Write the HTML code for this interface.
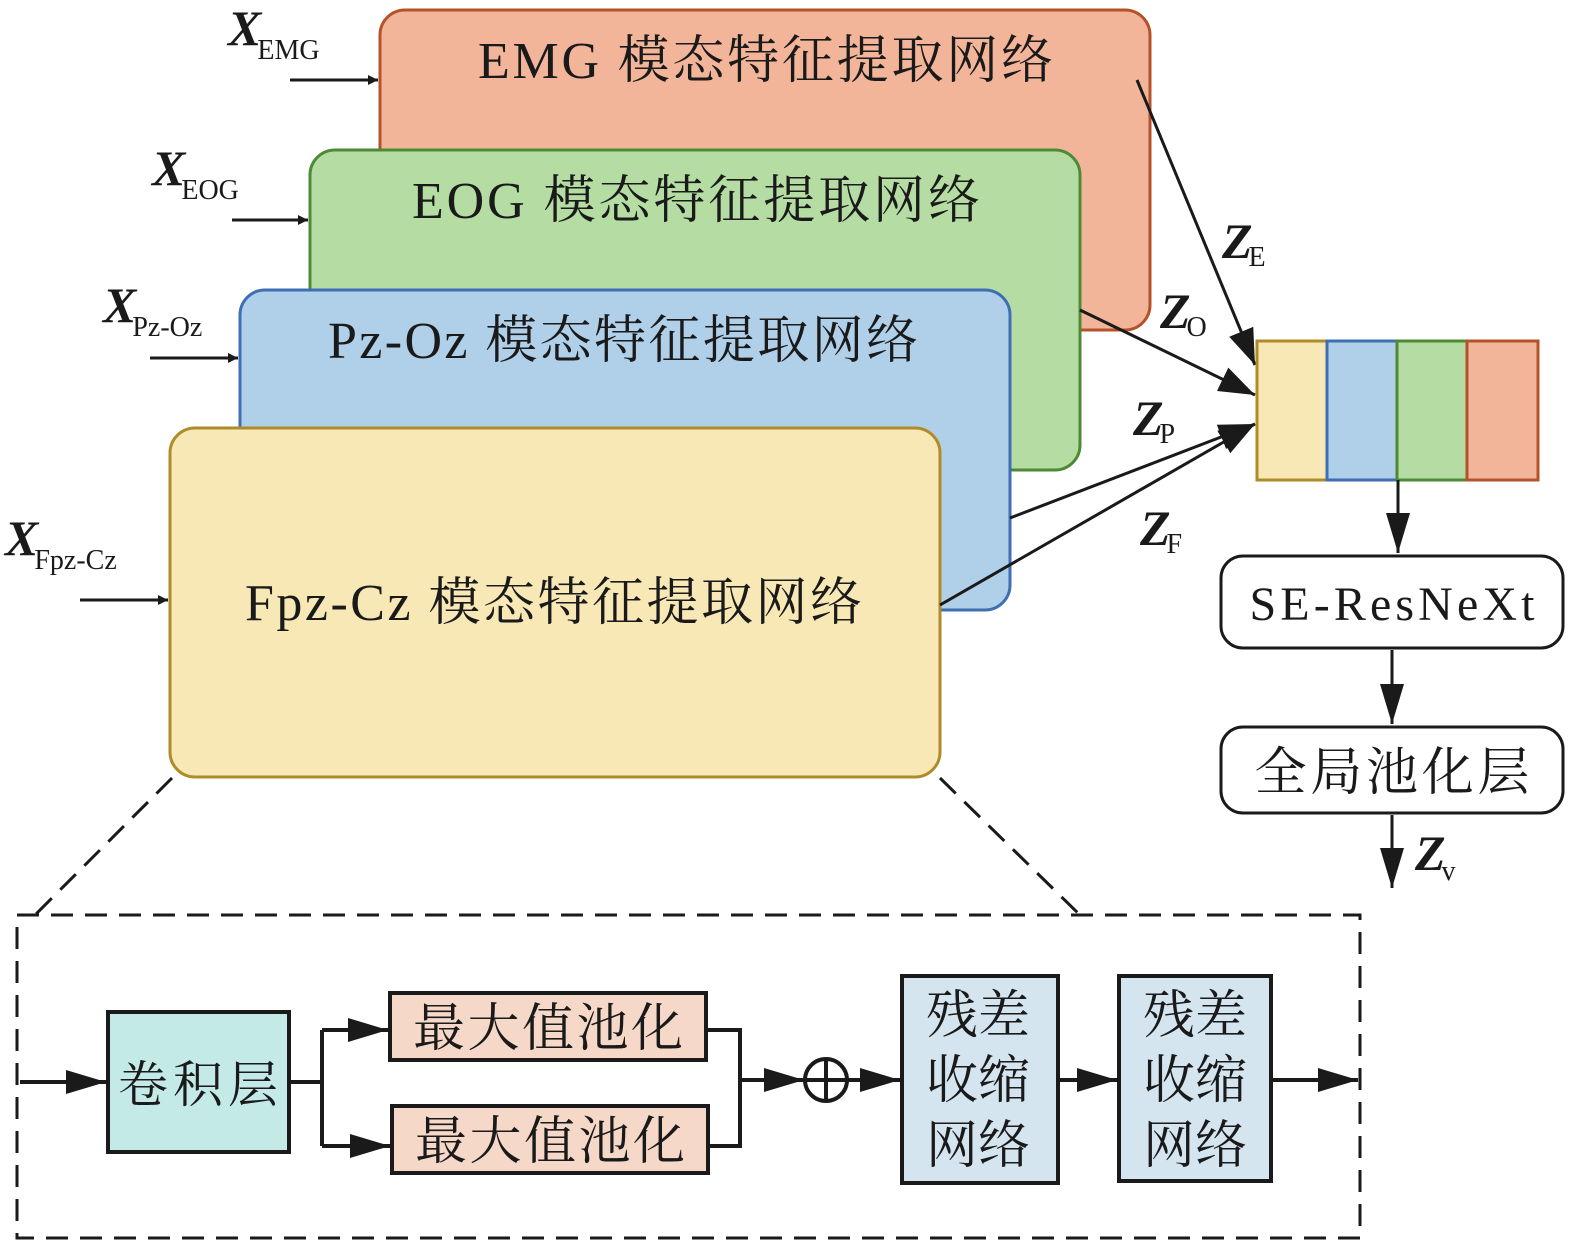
<!DOCTYPE html>
<html><head><meta charset="utf-8"><style>
html,body{margin:0;padding:0;background:#fff;}
svg{display:block;}
text{font-family:"Liberation Serif","Noto Serif CJK SC",serif;fill:#1a1a1a;}
.t{font-size:52px;}
.xb{font-weight:bold;font-style:italic;font-size:50px;}
.sub{font-size:28px;}
</style></head><body>
<svg width="1575" height="1250" viewBox="0 0 1575 1250" xmlns="http://www.w3.org/2000/svg">
<defs>
<marker id="a" viewBox="0 0 10 10" refX="10" refY="5" markerWidth="10" markerHeight="10" markerUnits="userSpaceOnUse" orient="auto"><path d="M0,0 L10,5 L0,10 z" fill="#1a1a1a"/></marker>
</defs>
<g stroke="#1a1a1a" stroke-width="3" fill="none">
</g>
<!-- modality boxes -->
<rect x="380" y="10" width="770" height="320" rx="25" fill="#F2B59A" stroke="#B5522A" stroke-width="3"/>
<rect x="310" y="150" width="770" height="320" rx="25" fill="#B5DDA3" stroke="#4E8A35" stroke-width="3"/>
<rect x="240" y="290" width="770" height="320" rx="25" fill="#B0CFE8" stroke="#3E6FB5" stroke-width="3"/>
<rect x="170" y="428" width="770" height="349" rx="25" fill="#F8E8B6" stroke="#B08B2A" stroke-width="3"/>
<text class="t" x="478" y="78" textLength="575">EMG 模态特征提取网络</text>
<text class="t" x="412" y="218" textLength="568">EOG 模态特征提取网络</text>
<text class="t" x="328" y="358" textLength="590">Pz-Oz 模态特征提取网络</text>
<text class="t" x="245" y="620" textLength="617">Fpz-Cz 模态特征提取网络</text>

<!-- inputs -->
<text x="228" y="45"><tspan class="xb">X</tspan><tspan class="sub" dx="-4" dy="14">EMG</tspan></text>
<text x="152" y="185"><tspan class="xb">X</tspan><tspan class="sub" dx="-4" dy="14">EOG</tspan></text>
<text x="103" y="322"><tspan class="xb">X</tspan><tspan class="sub" dx="-4" dy="14">Pz-Oz</tspan></text>
<text x="5" y="555"><tspan class="xb">X</tspan><tspan class="sub" dx="-4" dy="14">Fpz-Cz</tspan></text>
<g stroke="#1a1a1a" stroke-width="3" fill="none">
<line x1="290" y1="80" x2="378" y2="80" marker-end="url(#a)"/>
<line x1="232" y1="220" x2="308" y2="220" marker-end="url(#a)"/>
<line x1="150" y1="358" x2="238" y2="358" marker-end="url(#a)"/>
<line x1="80" y1="600" x2="168" y2="600" marker-end="url(#a)"/>
</g>
<defs>
<marker id="b" viewBox="0 0 10 10" refX="10" refY="5" markerWidth="14" markerHeight="14" markerUnits="userSpaceOnUse" orient="auto"><path d="M0,0 L10,5 L0,10 z" fill="#1a1a1a"/></marker>
</defs>
<style>#x{}</style>
<!-- convergent arrows -->
<g stroke="#1a1a1a" stroke-width="3" fill="none">
<line x1="1137" y1="80" x2="1255" y2="365" marker-end="url(#c)"/>
<line x1="1080" y1="310" x2="1255" y2="395" marker-end="url(#c)"/>
<line x1="1010" y1="518" x2="1255" y2="424" marker-end="url(#c)"/>
<line x1="940" y1="605" x2="1255" y2="424" marker-end="url(#c)"/>
</g>
<defs>
<marker id="c" viewBox="0 0 10 10" refX="10" refY="5" markerWidth="36" markerHeight="26" markerUnits="userSpaceOnUse" orient="auto" preserveAspectRatio="none"><path d="M0,0 L10,5 L0,10 z" fill="#1a1a1a"/></marker>
<marker id="d" viewBox="0 0 10 10" refX="10" refY="5" markerWidth="40" markerHeight="24" markerUnits="userSpaceOnUse" orient="auto" preserveAspectRatio="none"><path d="M0,0 L10,5 L0,10 z" fill="#1a1a1a"/></marker>
</defs>
<text x="1222" y="258"><tspan class="xb">Z</tspan><tspan class="sub" dx="-4" dy="8">E</tspan></text>
<text x="1160" y="328"><tspan class="xb">Z</tspan><tspan class="sub" dx="-4" dy="8">O</tspan></text>
<text x="1133" y="435"><tspan class="xb">Z</tspan><tspan class="sub" dx="-4" dy="8">P</tspan></text>
<text x="1140" y="545"><tspan class="xb">Z</tspan><tspan class="sub" dx="-4" dy="8">F</tspan></text>

<!-- concat -->
<rect x="1257" y="341" width="70" height="139" fill="#F8E8B6" stroke="#B08B2A" stroke-width="3"/>
<rect x="1327" y="341" width="70" height="139" fill="#B0CFE8" stroke="#3E6FB5" stroke-width="3"/>
<rect x="1397" y="341" width="70" height="139" fill="#B5DDA3" stroke="#4E8A35" stroke-width="3"/>
<rect x="1467" y="341" width="71" height="139" fill="#F2B59A" stroke="#B5522A" stroke-width="3"/>
<g stroke="#1a1a1a" stroke-width="3" fill="none">
<line x1="1398" y1="480" x2="1398" y2="553" marker-end="url(#d)"/>
<line x1="1392" y1="650" x2="1392" y2="724" marker-end="url(#d)"/>
<line x1="1392" y1="815" x2="1392" y2="888" marker-end="url(#d)"/>
</g>
<rect x="1221" y="556" width="342" height="92" rx="22" fill="#fff" stroke="#1a1a1a" stroke-width="3"/>
<text x="1392" y="620" text-anchor="middle" style="font-size:48px" textLength="285">SE-ResNeXt</text>
<rect x="1221" y="727" width="342" height="86" rx="22" fill="#fff" stroke="#1a1a1a" stroke-width="3"/>
<text x="1392" y="790" text-anchor="middle" style="font-size:52px" textLength="275">全局池化层</text>
<text x="1415" y="870"><tspan class="xb">Z</tspan><tspan class="sub" dx="-4" dy="10">v</tspan></text>

<!-- dashed -->
<g stroke="#1a1a1a" stroke-width="3" fill="none" stroke-dasharray="22,12">
<line x1="172" y1="778" x2="35" y2="915"/>
<line x1="940" y1="778" x2="1080" y2="915"/>
<rect x="17" y="915" width="1343" height="323"/>
</g>

<!-- bottom flow -->
<rect x="108" y="1012" width="181" height="140" fill="#C4EAE8" stroke="#1a1a1a" stroke-width="4"/>
<text x="198" y="1102" text-anchor="middle" style="font-size:50px" textLength="160">卷积层</text>
<rect x="390" y="993" width="316" height="67" fill="#F6D8C8" stroke="#1a1a1a" stroke-width="4"/>
<text x="548" y="1046" text-anchor="middle" style="font-size:52px" textLength="270">最大值池化</text>
<rect x="392" y="1106" width="316" height="67" fill="#F6D8C8" stroke="#1a1a1a" stroke-width="4"/>
<text x="550" y="1159" text-anchor="middle" style="font-size:52px" textLength="270">最大值池化</text>
<rect x="902" y="976" width="156" height="207" fill="#D5E5F0" stroke="#1a1a1a" stroke-width="4"/>
<rect x="1119" y="976" width="152" height="205" fill="#D5E5F0" stroke="#1a1a1a" stroke-width="4"/>
<g style="font-size:52px" text-anchor="middle">
<text x="978" y="1033">残差</text><text x="978" y="1098">收缩</text><text x="978" y="1163">网络</text>
<text x="1195" y="1033">残差</text><text x="1195" y="1098">收缩</text><text x="1195" y="1163">网络</text>
</g>
<g stroke="#1a1a1a" stroke-width="4" fill="none">
<line x1="20" y1="1082" x2="106" y2="1082" marker-end="url(#e)"/>
<polyline points="289,1082 322,1082 322,1030"/>
<polyline points="322,1082 322,1146"/>
<line x1="322" y1="1030" x2="388" y2="1030" marker-end="url(#e)"/>
<line x1="322" y1="1146" x2="390" y2="1146" marker-end="url(#e)"/>
<polyline points="706,1030 740,1030 740,1146 708,1146"/>
<line x1="740" y1="1080" x2="804" y2="1080" marker-end="url(#e)"/>
<circle cx="826" cy="1080" r="21"/>
<line x1="805" y1="1080" x2="847" y2="1080"/>
<line x1="826" y1="1059" x2="826" y2="1101"/>
<line x1="847" y1="1080" x2="900" y2="1080" marker-end="url(#e)"/>
<line x1="1058" y1="1080" x2="1117" y2="1080" marker-end="url(#e)"/>
<line x1="1271" y1="1080" x2="1358" y2="1080" marker-end="url(#e)"/>
</g>
<defs>
<marker id="e" viewBox="0 0 10 10" refX="10" refY="5" markerWidth="40" markerHeight="24" markerUnits="userSpaceOnUse" orient="auto" preserveAspectRatio="none"><path d="M0,0 L10,5 L0,10 z" fill="#1a1a1a"/></marker>
</defs>
</svg>
</body></html>
